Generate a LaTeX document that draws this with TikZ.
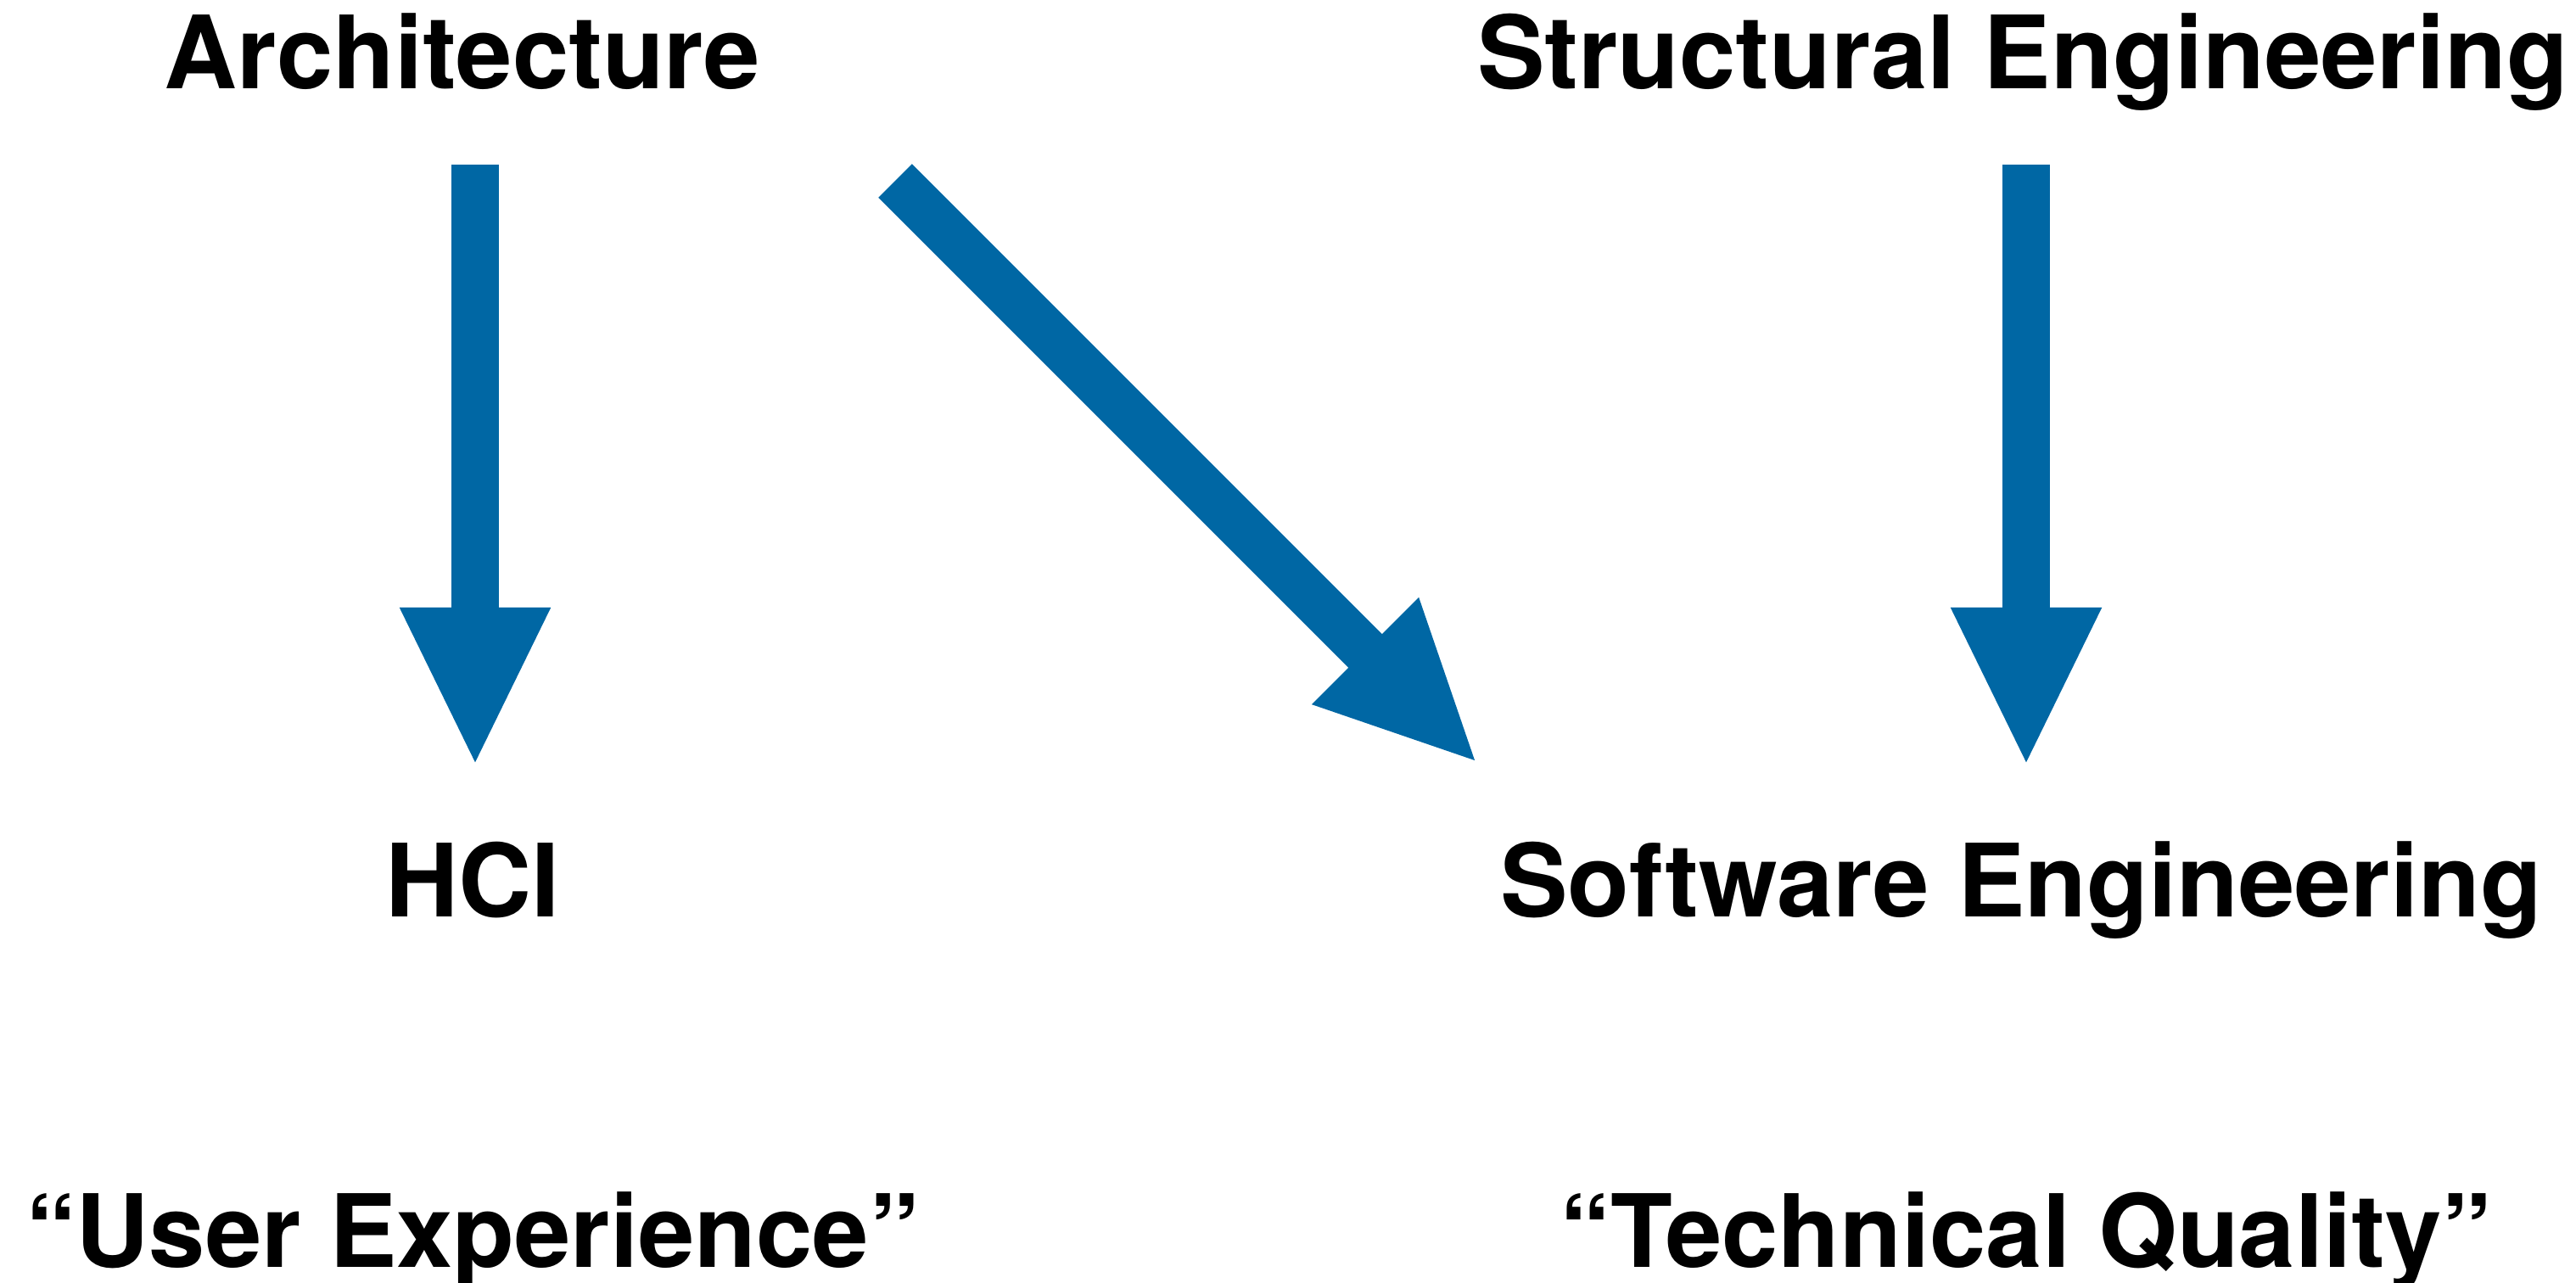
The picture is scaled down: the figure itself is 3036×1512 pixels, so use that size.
\documentclass[tikz,border=0pt]{standalone}
\usepackage{fontspec}
\setmainfont{TeX Gyre Heros}
\usetikzlibrary{arrows.meta}
\definecolor{flowblue}{RGB}{0,103,164}

\begin{document}
\begin{tikzpicture}[x=0.01cm,y=-0.01cm,
  field/.style={font=\fontsize{33.9}{40}\selectfont\bfseries,anchor=base,inner sep=0},
  flowarrow/.style={draw=flowblue,line width=0.56cm,-{Triangle[length=1.88cm,width=1.63cm]}}]
\useasboundingbox (0,0) rectangle (3036,1512);
\node[field] (arch) at (545,104) {Architecture};
\node[field] (struct) at (2384,104) {Structural Engineering};
\node[field] (hci) at (557,1080) {HCI};
\node[field] (soft) at (2382,1080) {Software Engineering};
\node[field] (ux) at (557,1493) {“User Experience”};
\node[field] (tq) at (2388,1493) {“Technical Quality”};
\coordinate (arch-down) at (560,194);
\coordinate (arch-side) at (1055,213);
\coordinate (struct-down) at (2388,194);
\coordinate (hci-in) at (560,904);
\coordinate (soft-in) at (1742,900);
\coordinate (soft-top) at (2388,904);
\draw[flowarrow] (arch-down) -- (hci-in);
\draw[flowarrow] (arch-side) -- (soft-in);
\draw[flowarrow] (struct-down) -- (soft-top);
\end{tikzpicture}
\end{document}
